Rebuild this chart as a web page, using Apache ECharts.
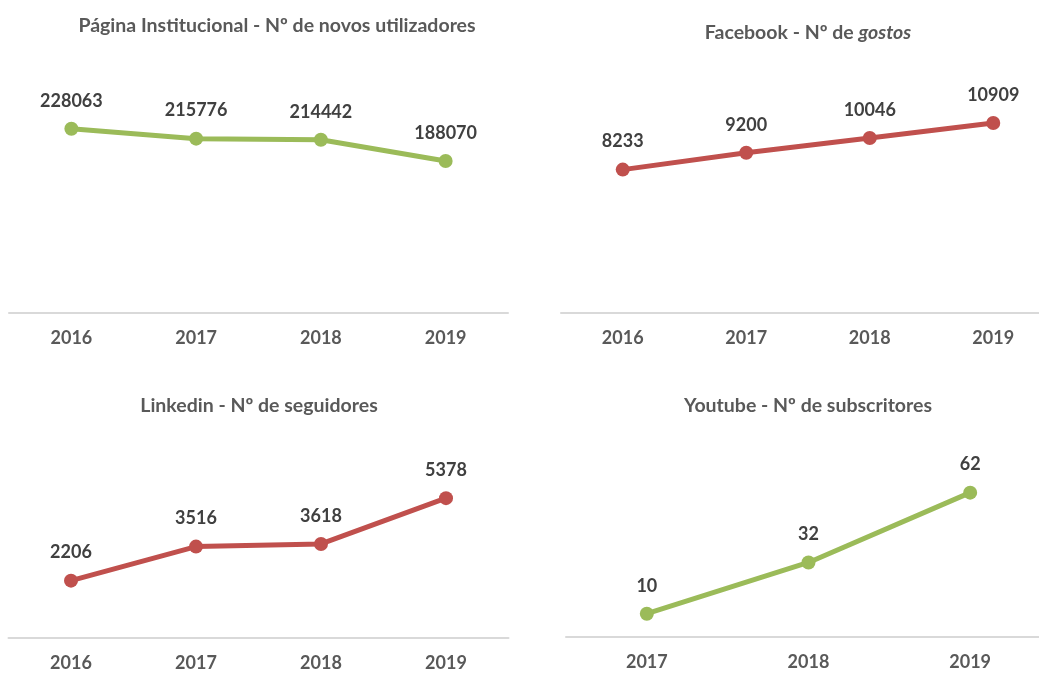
<!DOCTYPE html>
<html>
<head>
<meta charset="utf-8">
<script src="https://cdn.jsdelivr.net/npm/echarts@6/dist/echarts.min.js"></script>
<style>
  html, body { margin: 0; padding: 0; background: #fff; overflow: hidden; }
  /* wider than the window: the right-hand panels run past the page edge */
  #chart { width: 1060px; height: 673px; }
</style>
</head>
<body>
<div id="chart"></div>
<script>
const years = ['2016', '2017', '2018', '2019']
const youtubeYears = ['2017', '2018', '2019']

const siteUsers = [228063, 215776, 214442, 188070]
const facebookLikes = [8233, 9200, 10046, 10909]
const linkedinFollowers = [2206, 3516, 3618, 5378]
const youtubeSubs = [10, 32, 62]

const green = '#9BBB59'
const red = '#C0504D'
const font = 'Lato, "Open Sans", sans-serif'

const chart = echarts.init(document.getElementById('chart'))

// grids in px, one per panel
const grids = [
  { left: 9, width: 499, top: 111, height: 202 },
  { left: 561, width: 494, top: 104, height: 209 },
  { left: 8.5, width: 500, top: 482, height: 156 },
  { left: 566, width: 485, top: 474, height: 163 },
]
const yMax = [250000, 12000, 6000, 70]
const cats = [years, years, years, youtubeYears]
const data = [siteUsers, facebookLikes, linkedinFollowers, youtubeSubs]
const colors = [green, red, red, green]

const titleStyle = { fontFamily: font, fontSize: 19.5, fontWeight: 'bold', color: '#595959' }

chart.setOption({
  animation: false,
  title: [
    { text: 'Página Institucional - Nº de novos utilizadores', left: 277, top: 26 },
    {
      text: '{n|Facebook - Nº de }{i|gostos}', left: 808, top: 33,
      textStyle: {
        rich: {
          n: titleStyle,
          i: Object.assign({}, titleStyle, { fontStyle: 'italic' }),
        },
      },
    },
    { text: 'Linkedin - Nº de seguidores', left: 259, top: 406 },
    { text: 'Youtube - Nº de subscritores', left: 808, top: 406 },
  ].map(t => Object.assign({
    textAlign: 'center',
    textVerticalAlign: 'middle',
    padding: 0,
    textStyle: titleStyle,
  }, t)),
  grid: grids,
  xAxis: cats.map((c, i) => ({
    type: 'category',
    gridIndex: i,
    data: c,
    axisLine: { lineStyle: { color: '#D9D9D9', width: 2 } },
    axisTick: { show: false },
    axisLabel: {
      margin: 16,
      fontFamily: font,
      fontSize: 18,
      fontWeight: 'bold',
      color: '#595959',
    },
  })),
  yAxis: yMax.map((m, i) => ({
    type: 'value',
    gridIndex: i,
    min: 0,
    max: m,
    show: false,
    splitLine: { show: false },
  })),
  series: data.map((d, i) => ({
    type: 'line',
    xAxisIndex: i,
    yAxisIndex: i,
    data: d,
    symbol: 'circle',
    symbolSize: 14,
    lineStyle: { color: colors[i], width: 5 },
    itemStyle: { color: colors[i] },
    label: {
      show: true,
      position: 'top',
      distance: 12,
      fontFamily: font,
      fontSize: 18,
      fontWeight: 'bold',
      color: '#404040',
    },
  })),
})
</script>
</body>
</html>
